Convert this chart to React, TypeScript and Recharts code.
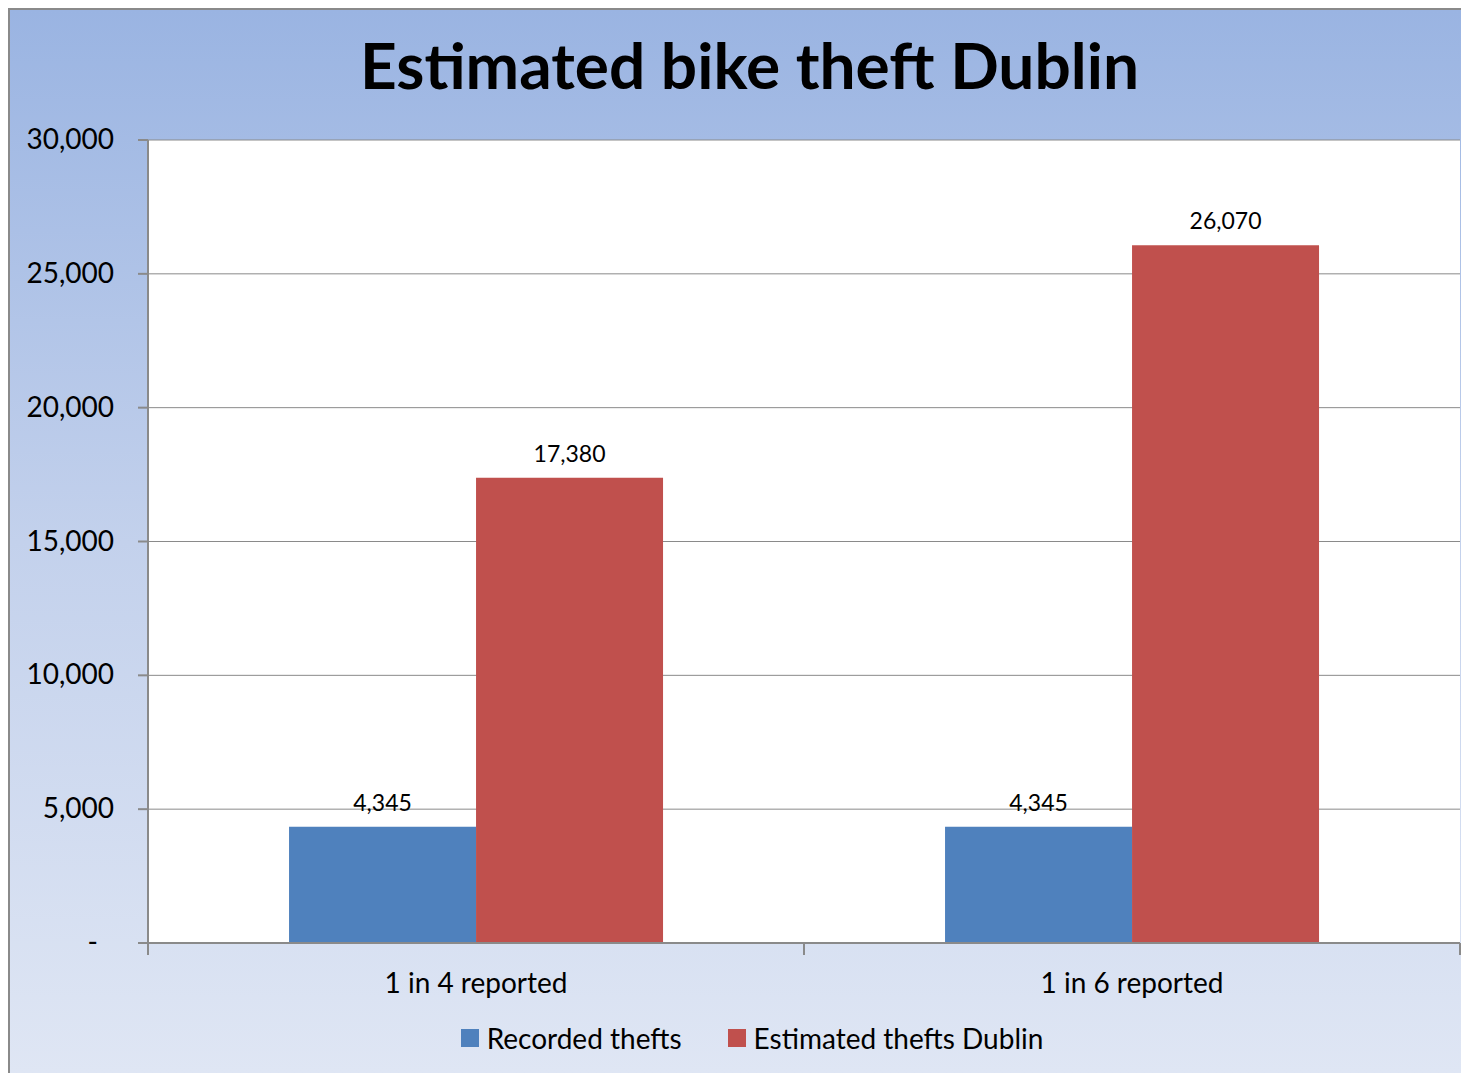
import React from "react";
import {
  BarChart,
  Bar,
  XAxis,
  YAxis,
  CartesianGrid,
  Legend,
  LabelList,
} from "recharts";

const categories = ["1 in 4 reported", "1 in 6 reported"];
const recordedThefts = [4345, 4345];
const estimatedThefts = [17380, 26070];
const yTicks = [0, 5000, 10000, 15000, 20000, 25000, 30000];

const data = categories.map((name, i) => ({
  name,
  recorded: recordedThefts[i],
  estimated: estimatedThefts[i],
}));

const FONT = "Lato, 'Open Sans', sans-serif";
const AXIS = "#8a8a8a";

const fmt = (v: number) => (v === 0 ? "-" : v.toLocaleString("en-US"));

const XTick = (props: any) => {
  const { x, y, payload } = props;
  const half = 328;
  return (
    <g>
      <line x1={x - half} y1={y - 8} x2={x - half} y2={y + 4} stroke={AXIS} strokeWidth={2} />
      <line x1={x + half} y1={y - 8} x2={x + half} y2={y + 4} stroke={AXIS} strokeWidth={2} />
      <text x={x} y={y + 42} textAnchor="middle" fontSize={28} fill="#000" fontFamily={FONT}>
        {payload.value}
      </text>
    </g>
  );
};

// excel accounting style: the zero dash sits further left
const YTick = (props: any) => {
  const { x, y, payload } = props;
  const shift = payload.value === 0 ? 16 : 0;
  return (
    <text x={x - shift} y={y} dy={9} textAnchor="end" fontSize={28} fill="#000" fontFamily={FONT}>
      {fmt(payload.value)}
    </text>
  );
};

const LegendContent = (props: any) => {
  const order = ["recorded", "estimated"];
  const items = [...(props.payload || [])].sort(
    (a: any, b: any) => order.indexOf(a.dataKey) - order.indexOf(b.dataKey)
  );
  return (
    <div style={{ display: "flex", justifyContent: "center", gap: 46, paddingLeft: 26 }}>
      {items.map((it: any) => (
        <div key={it.value} style={{ display: "flex", alignItems: "center", gap: 8 }}>
          <span style={{ width: 18, height: 18, background: it.color, display: "inline-block" }} />
          <span style={{ fontSize: 28, color: "#000", fontFamily: FONT }}>{it.value}</span>
        </div>
      ))}
    </div>
  );
};

const App = () => {
  return (
    <div
      style={{
        position: "relative",
        width: 1459,
        height: 1063,
        borderLeft: `2px solid ${AXIS}`,
        borderTop: `2px solid ${AXIS}`,
        background: "linear-gradient(to bottom, #9ab4e2 0%, #c3d1ec 50%, #dfe6f4 100%)",
        fontFamily: FONT,
      }}
    >
      <style>{`body{margin:8px;overflow:hidden}`}</style>
      <div
        style={{
          position: "absolute",
          top: 16,
          left: 0,
          width: 1459,
          textAlign: "center",
          fontSize: 64,
          fontWeight: 700,
          color: "#000",
          paddingLeft: 10,
        }}
      >
        Estimated bike theft Dublin
      </div>
      <BarChart
        width={1459}
        height={1063}
        data={data}
        margin={{ top: 130, right: 9, left: 8, bottom: 14 }}
        barGap={0}
        barCategoryGap="21.5%"
      >
        <CartesianGrid horizontal vertical={false} stroke={AXIS} fill="#ffffff" fillOpacity={1} />
        <XAxis
          dataKey="name"
          height={82}
          tickLine={false}
          axisLine={{ stroke: AXIS, strokeWidth: 2 }}
          tick={<XTick />}
          interval={0}
        />
        <YAxis
          width={130}
          domain={[0, 30000]}
          ticks={yTicks}
          tickSize={10}
          tickMargin={24}
          axisLine={{ stroke: AXIS, strokeWidth: 2 }}
          tickLine={{ stroke: AXIS, strokeWidth: 2 }}
          tick={<YTick />}
        />
        <Legend
          verticalAlign="bottom"
          content={<LegendContent />}
          wrapperStyle={{ bottom: 18 }}
        />
        <Bar dataKey="recorded" name="Recorded thefts" fill="#4f81bd" isAnimationActive={false}>
          <LabelList dataKey="recorded" position="top" offset={16} formatter={fmt} style={{ fontSize: 23, fill: "#000", fontFamily: FONT }} />
        </Bar>
        <Bar dataKey="estimated" name="Estimated thefts Dublin" fill="#c0504d" isAnimationActive={false}>
          <LabelList dataKey="estimated" position="top" offset={16} formatter={fmt} style={{ fontSize: 23, fill: "#000", fontFamily: FONT }} />
        </Bar>
      </BarChart>
    </div>
  );
};

export default App;
